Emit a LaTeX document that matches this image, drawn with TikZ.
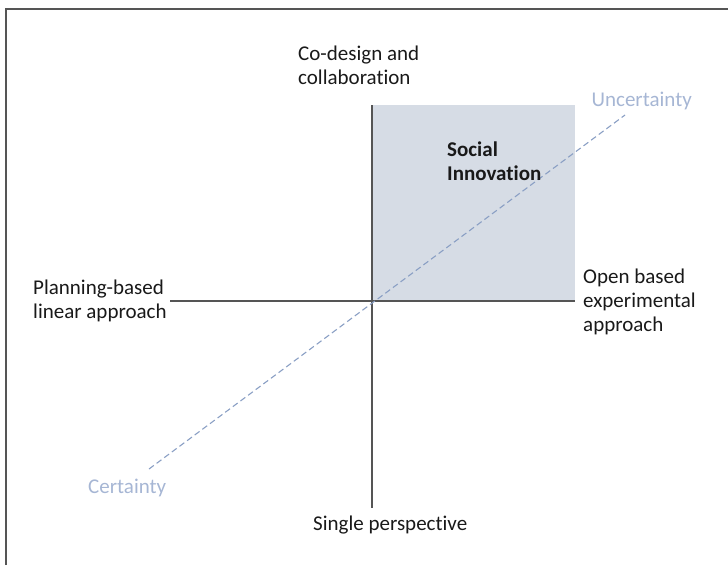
\documentclass[tikz,border=0pt]{standalone}
\usepackage{fontspec}
\setmainfont{Carlito}[Ligatures=NoCommon]
\usetikzlibrary{positioning}
\definecolor{axisgrey}{HTML}{555555}
\definecolor{quadfill}{HTML}{D6DCE5}
\definecolor{diagblue}{HTML}{8A9FC4}
\definecolor{softblue}{HTML}{A6B6D4}

\begin{document}
\begin{tikzpicture}[x=1pt, y=-1pt,
    axisLine/.style={draw=axisgrey, line width=1.2pt},
    quadLabel/.style={font=\fontsize{21}{24}\selectfont, text=black!90, align=left, inner sep=0pt},
    dirLabel/.style={font=\fontsize{21}{24}\selectfont, text=softblue, inner sep=0pt}
]
    \useasboundingbox (0,0) rectangle (728,565);
    % frame, cut off at right and bottom
    \draw[axisgrey, line width=2pt] (6,565) -- (6,9) -- (728,9);

    % axes
    \coordinate (origin) at (372,301);
    \coordinate (top) at (372,105);
    \coordinate (bottom) at (372,508);
    \coordinate (left) at (170,301);
    \coordinate (right) at (575,301);
    \coordinate (boxcorner) at (575,105);

    \fill[quadfill] (origin) rectangle (boxcorner);
    \draw[axisLine] (top) -- (bottom);
    \draw[axisLine] (left) -- (right);

    % certainty diagonal
    \coordinate (lowend) at (149,469);
    \coordinate (highend) at (625,115);
    \draw[diagblue, line width=1.1pt, dash pattern=on 6pt off 3.5pt] (lowend) -- (highend);

    % labels
    \node[quadLabel, anchor=north west] (codesign) at (298,46) {Co-design and\\collaboration};
    \node[quadLabel, anchor=north west, font=\fontsize{21}{24}\selectfont\bfseries] (social) at (447,142) {Social\\Innovation};
    \node[quadLabel, anchor=north west] (planning) at (33,280) {Planning-based\\linear approach};
    \node[quadLabel, anchor=north west] (open) at (583,269) {Open based\\experimental\\approach};
    \node[quadLabel, anchor=north west] (single) at (313,516) {Single perspective};
    \node[dirLabel, anchor=north east] (uncertain) at (692,92) {Uncertainty};
    \node[dirLabel, anchor=north west] (certain) at (88,479) {Certainty};
\end{tikzpicture}
\end{document}
